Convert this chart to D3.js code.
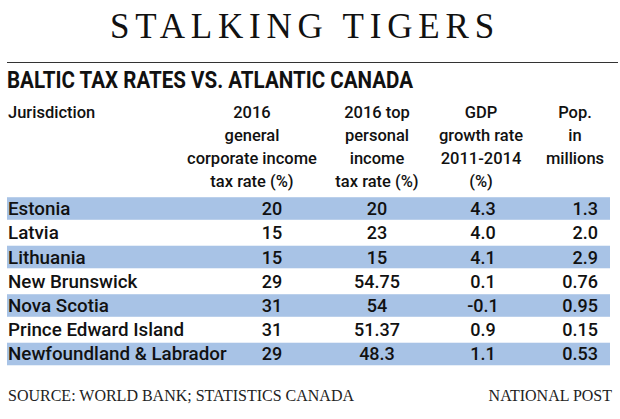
<!DOCTYPE html>
<html><head><meta charset="utf-8">
<script src="https://cdn.jsdelivr.net/npm/d3@7"></script>
<style>
html,body{margin:0;padding:0;background:#fff;}
svg{display:block;}
</style></head>
<body>
<script>
const title = "STALKING TIGERS";
const subtitle = "BALTIC TAX RATES VS. ATLANTIC CANADA";
const source = "SOURCE: WORLD BANK; STATISTICS CANADA";
const credit = "NATIONAL POST";
const headers = [
  ["Jurisdiction"],
  ["2016", "general", "corporate income", "tax rate (%)"],
  ["2016 top", "personal", "income", "tax rate (%)"],
  ["GDP", "growth rate", "2011-2014", "(%)"],
  ["Pop.", "in", "millions"]
];
const jurisdictions = ["Estonia","Latvia","Lithuania","New Brunswick","Nova Scotia","Prince Edward Island","Newfoundland & Labrador"];
const corporateTax = ["20","15","15","29","31","31","29"];
const personalTax = ["20","23","15","54.75","54","51.37","48.3"];
const gdpGrowth = ["4.3","4.0","4.1","0.1","-0.1","0.9","1.1"];
const population = ["1.3","2.0","2.9","0.76","0.95","0.15","0.53"];

const W = 620, H = 419;
const svg = d3.select("body").append("svg").attr("width", W).attr("height", H);
const sans = "Roboto, 'Noto Sans', sans-serif";
const serif = "'Liberation Serif', 'DejaVu Serif', serif";

// Title
svg.append("text").attr("x", 305).attr("y", 38).attr("text-anchor", "middle")
  .attr("font-family", serif).attr("font-size", 35).attr("letter-spacing", 5.8)
  .attr("fill", "#111").text(title);
svg.append("line").attr("x1", 7).attr("x2", 618).attr("y1", 62.5).attr("y2", 62.5)
  .attr("stroke", "#333").attr("stroke-width", 1.2);
svg.append("text").attr("x", 7).attr("y", 88)
  .attr("font-family", sans).attr("font-weight", 700).attr("font-size", 23.5)
  .attr("textLength", 406).attr("lengthAdjust", "spacingAndGlyphs")
  .attr("fill", "#111").text(subtitle);

// Column positions
const colX = [8, 252, 377, 481, 575];
const valX = [8, 272, 377, 483, 598];
const valAnchor = ["start","middle","middle","middle","end"];

// Headers
const hy = d3.scaleLinear().domain([0, 1]).range([118, 141]);
headers.forEach((lines, ci) => {
  lines.forEach((ln, li) => {
    svg.append("text").attr("x", colX[ci]).attr("y", hy(li))
      .attr("text-anchor", ci === 0 ? "start" : "middle")
      .attr("font-family", sans).attr("font-weight", 500).attr("font-size", 16.5).attr("fill", "#111")
      .text(ln);
  });
});

// Rows
const y = d3.scaleBand().domain(jurisdictions).range([196.5, 366]).paddingInner(0.07).paddingOuter(0.03);
const rows = jurisdictions.map((j, i) => [j, corporateTax[i], personalTax[i], gdpGrowth[i], population[i]]);

svg.selectAll("rect.band").data(jurisdictions.filter((d, i) => i % 2 === 0))
  .enter().append("rect").attr("class", "band")
  .attr("x", 7).attr("width", 603)
  .attr("y", d => y(d)).attr("height", y.bandwidth())
  .attr("fill", "#a8c3e6");

const g = svg.selectAll("g.row").data(rows).enter().append("g").attr("class", "row")
  .attr("transform", (d, i) => `translate(0,${y(jurisdictions[i]) + y.bandwidth() / 2 + 6.5})`);
g.selectAll("text").data(d => d).enter().append("text")
  .attr("x", (d, i) => valX[i]).attr("text-anchor", (d, i) => valAnchor[i])
  .attr("font-family", sans).attr("font-weight", 500)
  .attr("font-size", (d, i) => i === 0 ? 18.8 : 18).attr("fill", "#111")
  .text(d => d);

// Footer
svg.append("text").attr("x", 8).attr("y", 401).attr("font-family", serif)
  .attr("font-size", 16).attr("fill", "#222").text(source);
svg.append("text").attr("x", 612).attr("y", 401).attr("text-anchor", "end").attr("font-family", serif)
  .attr("font-size", 16).attr("fill", "#222").text(credit);
</script>
</body></html>
